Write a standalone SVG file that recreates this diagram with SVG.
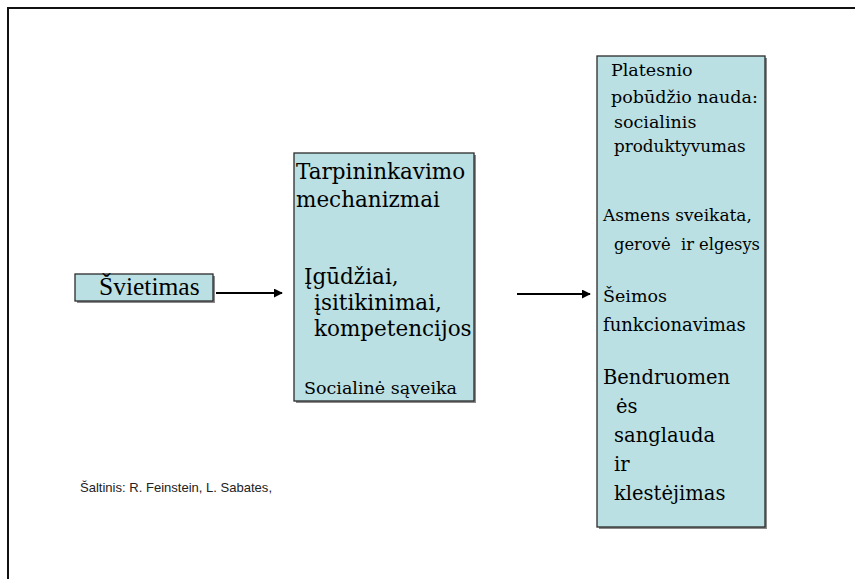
<svg xmlns="http://www.w3.org/2000/svg" width="855" height="579" viewBox="0 0 855 579">
<style>
.box{fill:#BBE0E3;stroke:#2b2b2b;stroke-width:1.3}
.sh{fill:#8a8a8a}
.t{font-family:"DejaVu Serif","Liberation Serif",serif;fill:#000}
.tn{font-family:"Liberation Serif","Times New Roman",serif;fill:#000}
.src{font-family:"Liberation Sans",Arial,sans-serif;fill:#222}
.conn{stroke:#000;stroke-width:2;fill:none}
</style>
<defs>
<marker id="ah" viewBox="0 0 10 10" refX="9" refY="5" markerWidth="4.5" markerHeight="4.5" orient="auto" markerUnits="strokeWidth">
<path d="M0,0 L10,5 L0,10 z" fill="#000"/>
</marker>
</defs>
<rect width="855" height="579" fill="#fff"/>
<g id="frame">
<path d="M8,900 L8,8 L900,8" fill="none" stroke="#111" stroke-width="2"/>
</g>
<g id="node-svietimas">
<rect class="sh" x="77" y="276" width="138" height="27"/>
<rect class="box" x="75" y="274" width="138" height="27"/>
<text class="tn" x="99" y="295" font-size="25.5">Švietimas</text>
</g>
<g id="node-tarpininkavimo">
<rect class="sh" x="296" y="155" width="180" height="248"/>
<rect class="box" x="294" y="153" width="180" height="248"/>
<text class="t" font-size="21.5">
<tspan x="296" y="179">Tarpininkavimo</tspan>
<tspan x="296" y="207">mechanizmai</tspan>
<tspan x="304" y="284">Įgūdžiai,</tspan>
<tspan x="314" y="310">įsitikinimai,</tspan>
<tspan x="314" y="336">kompetencijos</tspan>
</text>
<text class="t" font-size="17.5" x="304" y="394">Socialinė sąveika</text>
</g>
<g id="node-nauda">
<rect class="sh" x="599" y="58" width="168" height="471"/>
<rect class="box" x="597" y="56" width="168" height="471"/>
<text class="t" font-size="17.5">
<tspan x="611" y="76">Platesnio</tspan>
<tspan x="611" y="103">pobūdžio nauda:</tspan>
<tspan x="614" y="128">socialinis</tspan>
<tspan x="614" y="152" font-size="16.8">produktyvumas</tspan>
<tspan x="603" y="221" font-size="17">Asmens sveikata,</tspan>
<tspan x="614" y="250" font-size="17" xml:space="preserve" textLength="146" lengthAdjust="spacingAndGlyphs">gerovė  ir elgesys</tspan>
<tspan x="603" y="302">Šeimos</tspan>
<tspan x="603" y="331" font-size="18">funkcionavimas</tspan>
</text>
<text class="t" font-size="19.5">
<tspan x="603" y="384">Bendruomen</tspan>
<tspan x="616" y="413">ės</tspan>
<tspan x="614" y="442">sanglauda</tspan>
<tspan x="614" y="471">ir</tspan>
<tspan x="614" y="500">klestėjimas</tspan>
</text>
</g>
<g id="connectors">
<line class="conn" x1="216" y1="293" x2="282" y2="293" marker-end="url(#ah)"/>
<line class="conn" x1="517" y1="294" x2="590" y2="294" marker-end="url(#ah)"/>
</g>
<g id="source">
<text class="src" x="80" y="492" font-size="13" textLength="192" lengthAdjust="spacingAndGlyphs">Šaltinis: R. Feinstein, L. Sabates,</text>
</g>
</svg>
